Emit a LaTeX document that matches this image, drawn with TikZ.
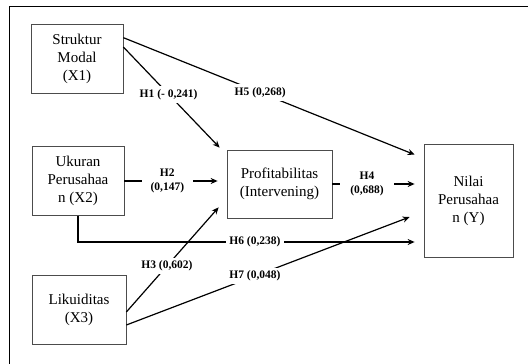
\documentclass[tikz,border=0pt]{standalone}
\usepackage{fontspec}
\setmainfont{Liberation Serif}
\usetikzlibrary{positioning,arrows.meta}
\tikzset{
  >={Stealth[length=7pt,width=6pt]},
  var/.style={draw=black!70, line width=0.7pt, align=center, inner sep=0pt,
    font=\fontsize{15}{18}\selectfont},
  hyp/.style={fill=white, align=center, inner sep=3pt,
    font=\fontsize{11.5}{14}\selectfont\bfseries},
  link/.style={->, line width=1.2pt},
}

\begin{document}
\begin{tikzpicture}[x=1pt, y=-1pt]
  \useasboundingbox (0,0) rectangle (528,364);
  \draw[line width=0.8pt] (9,364) -- (9,6) -- (528,6);

  % Variables
  \node[var, minimum width=92pt, minimum height=69pt] (x1) at (77,58.5) {Struktur\\Modal\\(X1)};
  \node[var, minimum width=92pt, minimum height=69pt] (x2) at (78,181) {Ukuran\\Perusahaa\\n (X2)};
  \node[var, minimum width=94pt, minimum height=69pt] (x3) at (79,309.5) {Likuiditas\\(X3)};
  \node[var, minimum width=105pt, minimum height=68pt] (prof) at (279.5,184) {Profitabilitas\\(Intervening)};
  \node[var, minimum width=89pt, minimum height=113pt] (y) at (468.5,200.5) {Nilai\\Perusahaa\\n (Y)};

  % Hypotheses
  \draw[link] ([yshift=11.5pt]x1.east) -- ([xshift=-7pt,yshift=2pt]prof.north west)
    node[hyp, pos=0.47] {H1 (- 0,241)};
  \draw[link] ([yshift=-14pt]x1.north east) -- ([xshift=-9pt,yshift=-11pt]y.north west)
    node[hyp, pos=0.47] {H5 (0,268)};
  \draw[link, shorten >=9pt] (x2.east) -- (x2.east -| prof.west)
    node[hyp, inner xsep=9pt, pos=0.42] {H2\\(0,147)};
  \draw[link, shorten >=9pt] (prof.east) -- (prof.east -| y.west)
    node[hyp, inner xsep=10pt, pos=0.38] {H4\\(0,688)};
  \draw[link, shorten >=9pt] (x2.south) |- ([yshift=-41.5pt]y.west)
    node[hyp, pos=0.756] {H6 (0,238)};
  \draw[link] ([yshift=-2.5pt]x3.east) -- ([xshift=-8pt,yshift=11pt]prof.south west)
    node[hyp, pos=0.44] {H3 (0,602)};
  \draw[link] ([yshift=-15.5pt]x3.east) -- ([xshift=-14pt,yshift=-16.5pt]y.west)
    node[hyp, pos=0.454] {H7 (0,048)};
\end{tikzpicture}
\end{document}
